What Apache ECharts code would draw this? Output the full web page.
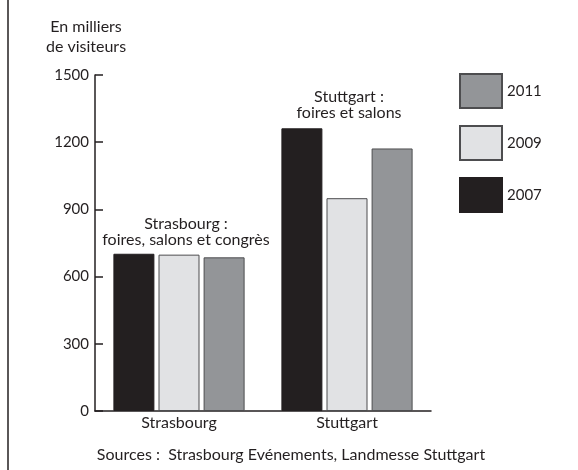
<!DOCTYPE html>
<html>
<head>
<meta charset="utf-8">
<script src="https://cdn.jsdelivr.net/npm/echarts@6/dist/echarts.min.js"></script>
<style>
  html, body { margin: 0; padding: 0; background: #fff; }
  #chart { width: 578px; height: 470px; }
</style>
</head>
<body>
<div id="chart"></div>
<script>
  // villes (catégories)
  const cities = ['Strasbourg', 'Stuttgart']
  // visiteurs, en milliers
  const v2007 = [702, 1262]
  const v2009 = [698, 950]
  const v2011 = [686, 1172]
  const yTicks = [0, 300, 600, 900, 1200, 1500]

  const ink = '#231f20'
  const font = 'Lato'

  const chart = echarts.init(document.getElementById('chart'))

  function bar(name, data, color, border) {
    return {
      name: name,
      type: 'bar',
      data: data,
      barWidth: 41,
      barGap: '10%',
      itemStyle: { color: color, borderColor: border, borderWidth: 1 }
    }
  }

  function note(x, y, text) {
    return {
      type: 'text', z: 100,
      style: { x: x, y: y, text: text, font: '16px ' + font, fill: ink, align: 'center', verticalAlign: 'middle', lineHeight: 16 }
    }
  }

  chart.setOption({
    animation: false,
    textStyle: { fontFamily: font, color: ink },
    grid: { left: 95, right: 147, top: 75, bottom: 59 },
    legend: {
      data: ['2011', '2009', '2007'],
      orient: 'vertical',
      left: 459,
      top: 73,
      padding: 0,
      itemWidth: 42,
      itemHeight: 34,
      itemGap: 16,
      icon: 'rect',
      textStyle: { fontFamily: font, fontSize: 15, color: ink },
      selectedMode: false
    },
    xAxis: {
      type: 'category',
      data: cities,
      axisLine: { lineStyle: { color: ink, width: 1.5 } },
      axisTick: { inside: true, length: 8, lineStyle: { color: ink, width: 1.5 } },
      axisLabel: { fontFamily: font, fontSize: 16, color: ink, margin: 4 }
    },
    yAxis: {
      type: 'value',
      min: yTicks[0],
      max: yTicks[yTicks.length - 1],
      interval: 300,
      name: 'En milliers\nde visiteurs',
      nameLocation: 'end',
      nameGap: 18,
      nameTextStyle: { fontFamily: font, fontSize: 16, color: ink, lineHeight: 20, align: 'center', padding: [0, 18, 0, 0] },
      axisLine: { show: true, lineStyle: { color: ink, width: 1.5 } },
      axisTick: { show: true, inside: true, length: 8, lineStyle: { color: ink, width: 1.5 } },
      axisLabel: { fontFamily: font, fontSize: 15, color: ink, margin: 6, formatter: v => String(v) },
      splitLine: { show: false }
    },
    graphic: [
      { type: 'line', shape: { x1: 8, y1: 0, x2: 8, y2: 470 }, style: { stroke: ink, lineWidth: 1.5 } },
      note(186, 232, 'Strasbourg :\nfoires, salons et congrès'),
      note(349, 105, 'Stuttgart :\nfoires et salons'),
      note(291, 455, 'Sources :  Strasbourg Evénements, Landmesse Stuttgart')
    ],
    series: [
      bar('2007', v2007, '#231f20', '#231f20'),
      bar('2009', v2009, '#e1e2e4', '#4d4d4f'),
      bar('2011', v2011, '#939598', '#4d4d4f')
    ]
  })
</script>
</body>
</html>
